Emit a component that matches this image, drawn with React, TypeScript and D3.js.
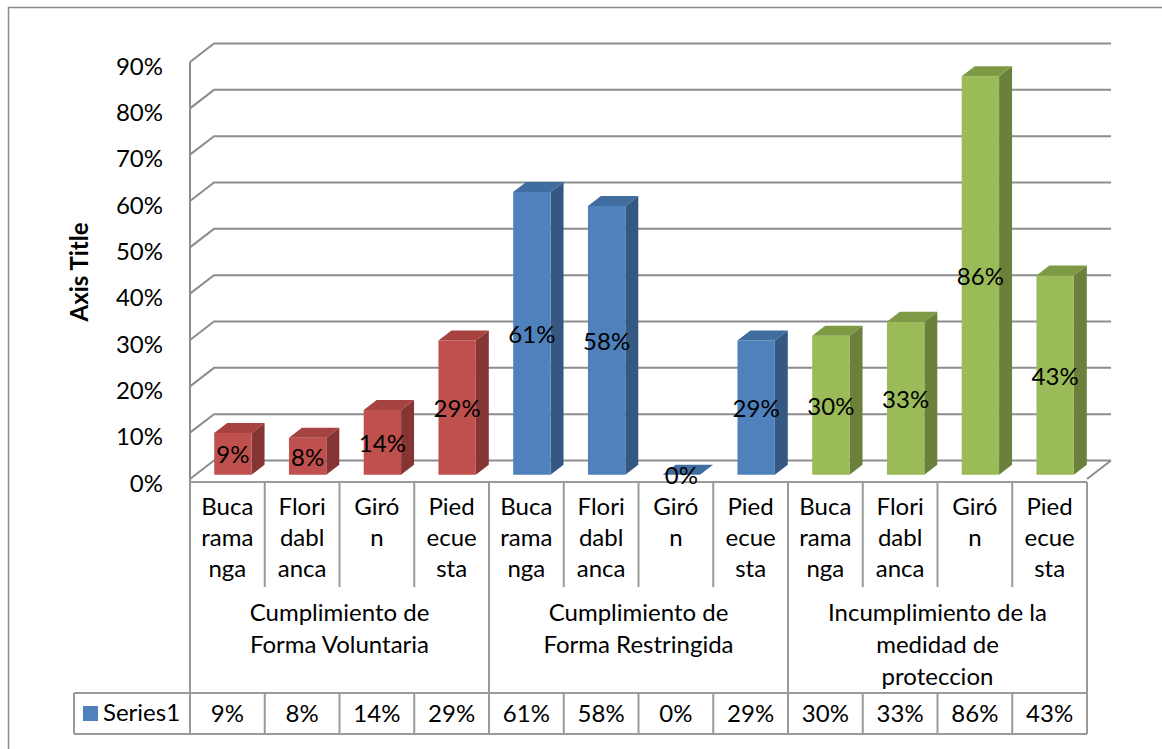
import React from "react";
import * as d3 from "d3";

const categoryLines: string[][] = [
  ["Buca", "rama", "nga"],
  ["Flori", "dabl", "anca"],
  ["Giró", "n"],
  ["Pied", "ecue", "sta"],
];
const groupLines: string[][] = [
  ["Cumplimiento de", "Forma Voluntaria"],
  ["Cumplimiento de", "Forma Restringida"],
  ["Incumplimiento de la", "medidad de", "proteccion"],
];
const values: number[] = [0.09, 0.08, 0.14, 0.29, 0.61, 0.58, 0, 0.29, 0.3, 0.33, 0.86, 0.43];
const yTicks: number[] = [0, 0.1, 0.2, 0.3, 0.4, 0.5, 0.6, 0.7, 0.8, 0.9];
const seriesName = "Series1";
const axisTitle = "Axis Title";

const groupColors = [
  { front: "#C0504D", side: "#853634", top: "#A6423F" },
  { front: "#4F81BD", side: "#345882", top: "#416CA0" },
  { front: "#9BBB59", side: "#6A803B", top: "#7E9A45" },
];

const FONT = "Lato, 'Open Sans', sans-serif";
const FS = 24;
const GRID = "#8d8d8d";
const TABLE = "#9a9a9a";

export default function App() {
  const W = 1162;
  const H = 749;
  const left = 190;
  const right = 1087;
  const DX = 24;
  const DY = 18.5;
  const z0 = 0.23;
  const z1 = 0.77;

  const n = values.length;
  const x = d3.scaleBand<number>().domain(d3.range(n)).range([left, right]).padding(0);
  const step = x.step();
  const y = d3.scaleLinear().domain([0, 0.9]).range([479, 62]);
  const pct = d3.format(".0%");
  const proj = (px: number, v: number, z: number): [number, number] => [px + z * DX, y(v) - z * DY];
  const pts = (arr: [number, number][]) => arr.map((p) => p.join(",")).join(" ");

  const tableTop = 482;
  const catBottom = 587;
  const rowTop = 693;
  const rowBottom = 734;
  const legendLeft = 74;

  return (
    <svg
      width={W}
      height={H}
      style={{ position: "absolute", left: 0, top: 0, background: "#fff" }}
      fontFamily={FONT}
    >
      <rect x={0} y={0} width={W} height={H} fill="#fff" />
      <rect x={8.5} y={7.5} width={1300} height={900} fill="none" stroke="#8a8a8a" strokeWidth={1.5} />

      {/* gridlines with left wall */}
      {yTicks.map((t) => {
        const [fx, fy] = [left, y(t)];
        const [bx, by] = proj(left, t, 1);
        const [ex] = proj(right, t, 1);
        return (
          <path
            key={t}
            d={`M${fx},${fy}L${bx},${by}L${ex},${by}`}
            fill="none"
            stroke={GRID}
            strokeWidth={2}
          />
        );
      })}
      {/* floor right edge */}
      <line x1={right} y1={y(0)} x2={right + DX} y2={y(0) - DY} stroke={GRID} strokeWidth={2} />
      {/* vertical axis line */}
      <line x1={left} y1={y(0.9)} x2={left} y2={tableTop} stroke={GRID} strokeWidth={2} />

      {/* tick labels */}
      {yTicks.map((t) => (
        <text key={t} x={163} y={y(t) + 3} textAnchor="end" dominantBaseline="central" fontSize={FS} fill="#000">
          {pct(t)}
        </text>
      ))}

      {/* axis title */}
      <text
        transform={`translate(78,272) rotate(-90)`}
        textAnchor="middle"
        dominantBaseline="central"
        fontSize={24}
        fontWeight="bold"
        fill="#000"
      >
        {axisTitle}
      </text>

      {/* data table */}
      <g stroke={TABLE} strokeWidth={2} fill="none">
        <line x1={left} y1={tableTop} x2={right} y2={tableTop} />
        <line x1={legendLeft} y1={rowTop} x2={right} y2={rowTop} />
        <line x1={legendLeft} y1={rowBottom} x2={right} y2={rowBottom} />
        <line x1={legendLeft} y1={rowTop} x2={legendLeft} y2={rowBottom} />
        {d3.range(n + 1).map((k) => {
          const xx = left + k * step;
          if (k % 4 === 0) return <line key={k} x1={xx} y1={tableTop} x2={xx} y2={rowBottom} />;
          return (
            <g key={k}>
              <line x1={xx} y1={tableTop} x2={xx} y2={catBottom} />
              <line x1={xx} y1={rowTop} x2={xx} y2={rowBottom} />
            </g>
          );
        })}
      </g>

      {/* category labels */}
      {values.map((_, i) => {
        const lines = categoryLines[i % 4];
        const cx = (x(i) as number) + step / 2;
        return (
          <text key={i} textAnchor="middle" fontSize={FS} fill="#000">
            {lines.map((l, j) => (
              <tspan key={j} x={cx} y={515 + j * 31}>
                {l}
              </tspan>
            ))}
          </text>
        );
      })}

      {/* group labels */}
      {groupLines.map((lines, g) => {
        const cx = left + (g * 4 + 2) * step;
        return (
          <text key={g} textAnchor="middle" fontSize={FS} fill="#000">
            {lines.map((l, j) => (
              <tspan key={j} x={cx} y={621 + j * 32}>
                {l}
              </tspan>
            ))}
          </text>
        );
      })}

      {/* value row */}
      {values.map((v, i) => (
        <text key={i} x={(x(i) as number) + step / 2} y={722} textAnchor="middle" fontSize={FS} fill="#000">
          {pct(v)}
        </text>
      ))}
      <rect x={83} y={706} width={15} height={15} fill="#4F81BD" />
      <text x={103} y={721} fontSize={FS} fill="#000">
        {seriesName}
      </text>

      {/* bars */}
      {values.map((v, i) => {
        const c = groupColors[Math.floor(i / 4)];
        const bx0 = (x(i) as number) + step * 0.25;
        const bx1 = bx0 + step * 0.5;
        const fTL = proj(bx0, v, z0);
        const fTR = proj(bx1, v, z0);
        const fBR = proj(bx1, 0, z0);
        const fBL = proj(bx0, 0, z0);
        const bTR = proj(bx1, v, z1);
        const bTL = proj(bx0, v, z1);
        const bBR = proj(bx1, 0, z1);
        return (
          <g key={i}>
            {v > 0 && <polygon points={pts([fBR, fTR, bTR, bBR])} fill={c.side} />}
            {v > 0 && <polygon points={pts([fTL, fTR, fBR, fBL])} fill={c.front} />}
            <polygon points={pts([fTL, fTR, bTR, bTL])} fill={c.top} />
          </g>
        );
      })}

      {/* data labels */}
      {values.map((v, i) => {
        const bx0 = (x(i) as number) + step * 0.25;
        const cx = bx0 + step * 0.25 + z0 * DX;
        const cy = (y(v) + y(0)) / 2 - z0 * DY;
        return (
          <text key={i} x={cx} y={cy} textAnchor="middle" dominantBaseline="central" fontSize={FS} fill="#000">
            {pct(v)}
          </text>
        );
      })}
    </svg>
  );
}
